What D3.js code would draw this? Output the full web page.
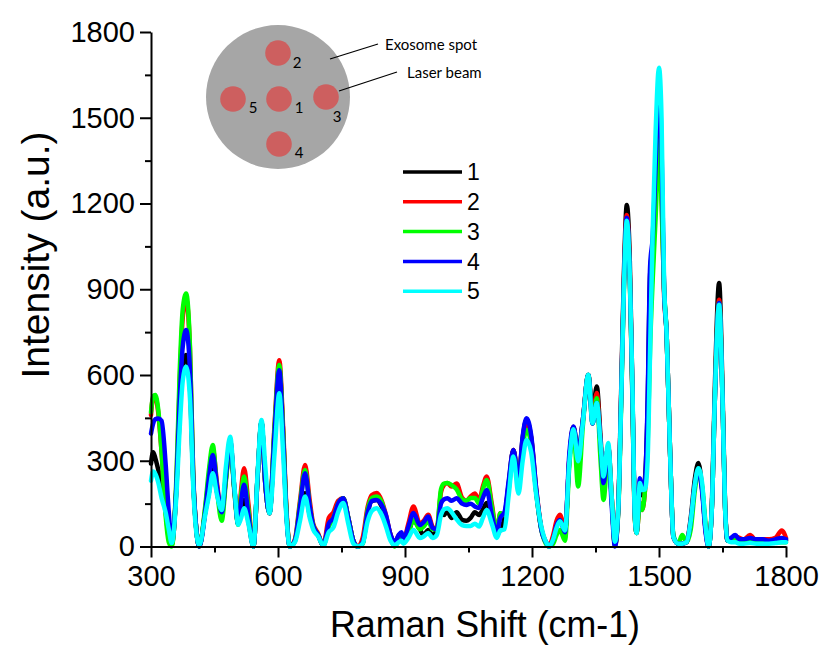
<!DOCTYPE html>
<html><head><meta charset="utf-8">
<script src="https://cdn.jsdelivr.net/npm/d3@7"></script>
<style>body{margin:0;background:#fff}svg{display:block}</style>
</head><body><svg id="c" width="823" height="647"></svg>
<script>
const wavenumbers = [300,305,310,317,325,335,342,349,360,368,375,383,392,400,407,414,428,437,446,456,467,477,487,497,506,513,520,530,542,552,561,570,580,592,603,612,620,628,640,652,664,675,683,695,707,720,731,742,754,766,778,789,800,812,822,833,845,855,866,876,885,892,896,908,920,935,944,955,965,975,985,992,1000,1010,1022,1035,1045,1055,1065,1075,1084,1093,1105,1117,1125,1135,1145,1156,1168,1178,1187,1198,1210,1222,1235,1240,1250,1258,1266,1278,1288,1298,1309,1320,1333,1343,1353,1362,1369,1380,1388,1396,1404,1410,1417,1424,1431,1437,1443,1447,1455,1460,1467,1473,1479,1485,1492,1500,1506,1512,1518,1526,1534,1545,1555,1565,1575,1585,1593,1602,1610,1617,1625,1632,1642,1650,1656,1662,1670,1680,1690,1700,1715,1730,1745,1760,1775,1790,1800];
const spot1 = [290,330,310,270,225,150,70,10,200,470, 620,670,560,220,60,0,120,190,268,190, 120,240,360,200,80,130,163,90,0,250, 435,220,116,400,625,400,120,0,20,120, 186,110,70,40,3,80,110,150,169,100, 20,0,10,120,160,163,140,100,40,10, 30,40,20,50,93,60,40,58,40,60, 120,110,122,100,120,93,90,100,120,110, 130,152,100,40,60,100,220,338,231,380, 443,380,190,60,10,0,30,80,105,56, 300,418,330,440,600,470,560,380,230,350, 180,5,150,500,950,1195,1000,560,110,47, 200,180,240,480,950,1050,1280,1560,1300,900, 745,336,33,10,10,15,100,240,292,200, 60,0,150,560,922,550,150,21,20,30, 20,15,20,15,20,15,20,25,20];
const spot2 = [460,520,520,470,330,120,30,5,220,580, 800,865,690,240,60,0,130,250,340,220, 110,240,370,200,80,200,274,150,0,250, 435,220,116,430,652,420,130,0,25,160, 285,160,80,45,3,100,120,160,169,100, 20,0,30,140,180,187,160,110,40,10, 40,45,20,80,140,80,90,111,70,60, 190,215,222,210,220,170,160,175,185,160, 210,245,150,50,116,110,210,338,231,370, 426,380,200,65,10,0,40,90,111,56, 300,418,300,440,600,450,537,360,220,350, 180,5,140,480,920,1160,960,540,100,47, 152,128,200,380,780,980,1250,1480,1250,880, 745,336,33,10,10,15,90,220,268,200, 60,0,140,520,863,520,140,21,25,35, 30,25,40,20,25,25,30,56,30];
const spot3 = [470,525,530,480,330,100,15,0,240,620, 830,885,700,233,60,0,140,270,355,200, 90,230,360,190,76,180,245,130,0,250, 435,220,116,420,635,400,120,0,20,150, 268,140,75,40,3,70,100,150,169,100, 20,0,10,130,170,175,155,100,30,0, 20,30,15,50,93,60,70,88,60,60, 200,220,222,215,200,165,160,170,170,150, 200,233,140,50,116,110,200,330,231,350, 408,360,190,60,5,0,10,40,58,20, 280,410,210,420,600,430,519,300,163,340, 170,5,130,460,890,1130,940,530,100,47, 152,128,200,350,700,930,1150,1420,1200,900, 745,336,40,10,40,15,60,200,257,210, 80,0,140,520,852,520,140,21,20,25, 20,15,15,15,15,15,15,15,15];
const spot4 = [395,430,445,448,440,280,120,20,210,520, 700,757,620,230,60,0,120,240,320,210, 120,250,370,200,80,160,216,110,0,250, 435,220,116,400,617,380,110,0,20,140, 256,140,73,40,3,80,100,150,169,100, 20,0,15,120,160,163,145,110,40,15, 40,50,21,70,117,75,85,105,65,60, 150,165,169,160,169,150,145,150,140,135, 170,198,110,50,100,120,230,338,231,385, 449,390,200,60,10,0,25,75,93,50, 320,420,327,440,600,430,502,360,222,350, 150,0,140,480,910,1150,950,550,110,50, 239,210,230,500,980,1080,1330,1620,1400,900, 745,336,33,10,10,15,90,220,268,190, 50,0,140,520,852,520,140,21,30,40, 25,25,30,25,25,20,25,30,25];
const spot5 = [230,262,255,225,170,116,60,12,180,420, 580,629,520,200,50,5,110,180,256,180, 128,280,384,210,76,100,134,80,0,260, 443,280,116,330,536,330,100,0,15,90, 175,100,60,35,3,50,67,120,152,80, 10,0,10,90,125,134,110,70,20,5, 15,20,10,30,58,30,35,47,30,40, 110,130,134,120,95,75,72,72,80,70, 100,128,80,30,56,60,180,315,185,300, 373,330,180,70,10,0,25,65,88,56, 290,410,298,430,601,432,502,360,245,362, 180,17,140,470,900,1140,950,570,103,47, 222,198,200,300,686,1100,1450,1675,1500,920, 745,336,33,10,10,15,90,220,274,220, 70,0,140,520,846,520,140,21,15,15, 10,10,12,10,10,10,12,15,15];
const seriesNames = ["1","2","3","4","5"];
const seriesColors = ["#000000","#ff0000","#00ff00","#0000ff","#00ffff"];
const xTicks = [300,600,900,1200,1500,1800];
const xMinor = [450,750,1050,1350,1650];
const yTicks = [0,300,600,900,1200,1500,1800];
const yMinor = [150,450,750,1050,1350,1650];
const spotLabels = ["1","2","3","4","5"];

const series = [spot1,spot2,spot3,spot4,spot5];
const svg = d3.select("#c");
svg.append("rect").attr("width",823).attr("height",647).attr("fill","#fff");

const x = d3.scaleLinear().domain([300,1800]).range([151,786]);
const y = d3.scaleLinear().domain([0,1800]).range([546.5,32]);
const F = "'Liberation Sans', Arial, sans-serif";
const fmt = d3.format("d");

// lines
const line = d3.line().x((d,i)=>x(wavenumbers[i])).y(d=>y(d)).curve(d3.curveMonotoneX);
series.forEach((s,k)=>{
  svg.append("path").datum(s).attr("d",line).attr("fill","none")
    .attr("stroke",seriesColors[k]).attr("stroke-width",4.5)
    .attr("stroke-linejoin","round").attr("stroke-linecap","round");
});

// axes
const ax = svg.append("g").attr("transform","translate(0,546.5)")
  .call(d3.axisBottom(x).tickValues(xTicks).tickSize(11).tickSizeOuter(0).tickPadding(8).tickFormat(fmt));
svg.append("g").attr("transform","translate(0,546.5)")
  .call(d3.axisBottom(x).tickValues(xMinor).tickSize(6).tickSizeOuter(0).tickFormat(""))
  .select(".domain").remove();
const ay = svg.append("g").attr("transform","translate(151,0)")
  .call(d3.axisLeft(y).tickValues(yTicks).tickSize(11).tickSizeOuter(0).tickPadding(5).tickFormat(fmt));
svg.append("g").attr("transform","translate(151,0)")
  .call(d3.axisLeft(y).tickValues(yMinor).tickSize(6).tickSizeOuter(0).tickFormat(""))
  .select(".domain").remove();
svg.selectAll(".domain, .tick line").attr("stroke","#000").attr("stroke-width",2);
svg.selectAll(".tick text").attr("font-family",F).attr("font-size",29).attr("fill","#000");
ax.selectAll(".tick text").attr("dy","0.72em");

// titles
svg.append("text").attr("x",485).attr("y",637).attr("text-anchor","middle")
  .attr("font-family",F).attr("font-size",37).attr("textLength",310).attr("lengthAdjust","spacingAndGlyphs")
  .text("Raman Shift (cm-1)");
svg.append("text").attr("transform","translate(49,255) rotate(-90)").attr("text-anchor","middle")
  .attr("font-family",F).attr("font-size",39).text("Intensity (a.u.)");

// legend
const lg = svg.append("g");
seriesNames.forEach((n,i)=>{
  const yy = 172 + i*29.8;
  lg.append("line").attr("x1",403).attr("x2",462).attr("y1",yy).attr("y2",yy)
    .attr("stroke",seriesColors[i]).attr("stroke-width",3.5);
  lg.append("text").attr("x",467).attr("y",yy).attr("dy","0.36em").attr("font-family",F)
    .attr("font-size",23).text(n);
});

// inset schematic
const ins = svg.append("g");
ins.append("circle").attr("cx",278).attr("cy",97).attr("r",72).attr("fill","#a6a6a6");
const spots = [[279,99],[278,53],[326,97],[279,144],[233,99]];
const labPos = [[299,113],[297,68],[337,122],[299,158],[253,113]];
spots.forEach(p=>ins.append("circle").attr("cx",p[0]).attr("cy",p[1]).attr("r",12.8).attr("fill","#cd5f5f"));
const IF = "Lato, 'Open Sans', sans-serif";
labPos.forEach((p,i)=>ins.append("text").attr("x",p[0]).attr("y",p[1]).attr("text-anchor","middle")
  .attr("font-family",IF).attr("font-size",15).text(spotLabels[i]));
ins.append("line").attr("x1",330).attr("y1",59).attr("x2",378).attr("y2",44).attr("stroke","#000").attr("stroke-width",1.3);
ins.append("line").attr("x1",339).attr("y1",91).attr("x2",397).attr("y2",72).attr("stroke","#000").attr("stroke-width",1.3);
ins.append("text").attr("x",385).attr("y",49.5).attr("font-family",IF).attr("font-size",15).text("Exosome spot");
ins.append("text").attr("x",407).attr("y",78).attr("font-family",IF).attr("font-size",15).text("Laser beam");
</script></body></html>
